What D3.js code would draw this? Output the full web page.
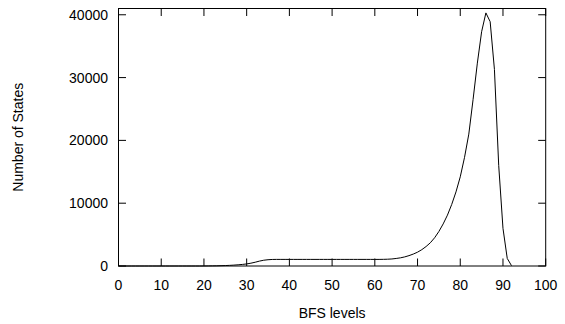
<!DOCTYPE html>
<html>
<head>
<meta charset="utf-8">
<script src="https://cdn.jsdelivr.net/npm/d3@7"></script>
<style>
  body { margin: 0; background: #fff; }
  text { font-family: "Liberation Sans", Arial, sans-serif; fill: #000; }
</style>
</head>
<body>
<div id="chart"></div>
<script>
// BFS level -> number of states
const levels = d3.range(0, 93);
const states = [
  0, 0, 0, 0, 0, 0, 0, 0, 0, 0,
  0, 0, 0, 0, 0, 0, 0, 0, 0, 0,
  5, 10, 20, 30, 50, 70, 100, 140, 190, 250,
  330, 450, 600, 780, 920, 1000, 1040, 1050, 1050, 1050,
  1050, 1050, 1050, 1050, 1050, 1050, 1050, 1050, 1050, 1050,
  1050, 1050, 1050, 1050, 1050, 1050, 1050, 1050, 1050, 1050,
  1050, 1050, 1060, 1080, 1120, 1200, 1300, 1450, 1650, 1900,
  2200, 2600, 3100, 3700, 4500, 5500, 6700, 8100, 9800, 11800,
  14200, 17300, 21000, 26500, 32300, 37300, 40300, 38900, 31300, 16000,
  6000, 1200, 50
];
const xTicks = [0, 10, 20, 30, 40, 50, 60, 70, 80, 90, 100];
const yTicks = [0, 10000, 20000, 30000, 40000];

const width = 565, height = 324;
const margin = { top: 8.5, right: 19.3, bottom: 58, left: 118.5 };

const svg = d3.select('#chart').append('svg')
  .attr('width', width)
  .attr('height', height);

const x = d3.scaleLinear().domain([0, 100]).range([margin.left, width - margin.right]);
const y = d3.scaleLinear().domain([0, 41000]).range([height - margin.bottom, margin.top]);

const tickLen = 7.5;

//@ticks, gnuplot style (inward, mirrored)
const axes = svg.append('g').attr('stroke', '#000').attr('stroke-width', 1);

xTicks.forEach(t => {
  axes.append('line')
    .attr('x1', x(t)).attr('x2', x(t))
    .attr('y1', y.range()[0]).attr('y2', y.range()[0] - tickLen);
  axes.append('line')
    .attr('x1', x(t)).attr('x2', x(t))
    .attr('y1', y.range()[1]).attr('y2', y.range()[1] + tickLen);
});
yTicks.forEach(t => {
  axes.append('line')
    .attr('x1', x.range()[0]).attr('x2', x.range()[0] + tickLen)
    .attr('y1', y(t)).attr('y2', y(t));
  axes.append('line')
    .attr('x1', x.range()[1]).attr('x2', x.range()[1] - tickLen)
    .attr('y1', y(t)).attr('y2', y(t));
});

//@data line
const line = d3.line()
  .x((d, i) => x(levels[i]))
  .y(d => y(d));

svg.append('path')
  .datum(states)
  .attr('d', line)
  .attr('fill', 'none')
  .attr('stroke', '#000')
  .attr('stroke-width', 1);

//@border
svg.append('rect')
  .attr('x', x.range()[0])
  .attr('y', y.range()[1])
  .attr('width', x.range()[1] - x.range()[0])
  .attr('height', y.range()[0] - y.range()[1])
  .attr('fill', 'none')
  .attr('stroke', '#000')
  .attr('stroke-width', 1);

//@labels
svg.append('g').selectAll('text')
  .data(xTicks)
  .join('text')
  .attr('x', d => x(d))
  .attr('y', 290)
  .attr('text-anchor', 'middle')
  .attr('font-size', 14)
  .text(d => d);

svg.append('g').selectAll('text')
  .data(yTicks)
  .join('text')
  .attr('x', 108)
  .attr('y', d => y(d) + 5)
  .attr('text-anchor', 'end')
  .attr('font-size', 14)
  .text(d => d);

svg.append('text')
  .attr('x', (x.range()[0] + x.range()[1]) / 2)
  .attr('y', 318)
  .attr('text-anchor', 'middle')
  .attr('font-size', 14)
  .text('BFS levels');

svg.append('text')
  .attr('transform', `translate(23, ${(y.range()[0] + y.range()[1]) / 2}) rotate(-90)`)
  .attr('text-anchor', 'middle')
  .attr('font-size', 14)
  .text('Number of States');
</script>
</body>
</html>
